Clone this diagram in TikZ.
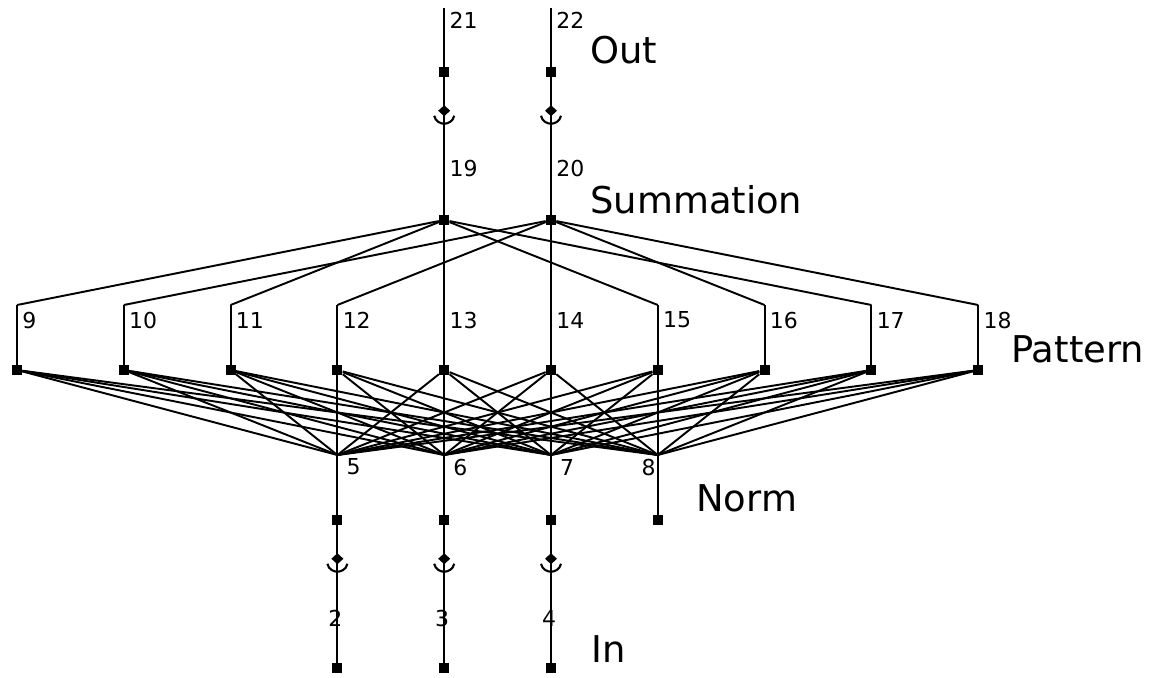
\documentclass[tikz,border=0pt]{standalone}
\usepackage{fontspec}
\setmainfont{DejaVu Sans}
\tikzset{
  unit/.style={rectangle, fill=black, inner sep=0pt, minimum size=0.2cm},
  stem/.style={line width=1.2pt},
  link/.style={line width=1.1pt},
  num/.style={font=\fontsize{12.5}{12.5}\selectfont, inner sep=0pt, anchor=west},
  layer/.style={font=\fontsize{21}{21}\selectfont, inner sep=0pt, anchor=base west},
  barb/.pic={
    \fill (0,-5.5) -- (6,0) -- (0,5.5) -- (-6,0) -- cycle;
    \draw[line width=1.2pt] (-10,5) .. controls (-9,11) and (-3,13) .. (0,13)
      .. controls (3,13) and (9,11) .. (10,5);
  }
}
\begin{document}
\begin{tikzpicture}[x=0.02cm, y=-0.02cm]
    \useasboundingbox (0,0) rectangle (1170,677);
    % input units
    \foreach \i in {2,3,4} {
        \pgfmathsetmacro{\xx}{17+106.8*(\i+1)}
        \node[unit] (u\i) at (\xx,668) {};
        \coordinate (t\i) at (\xx,603);
        \node[num, anchor=center] (n\i) at (\xx-2,618) {\i};
    }
    % norm units
    \foreach \i in {5,6,7,8} {
        \pgfmathsetmacro{\xx}{17+106.8*(\i-2)}
        \node[unit] (u\i) at (\xx,520) {};
        \coordinate (t\i) at (\xx,455);
        \draw[stem] (u\i) -- (t\i);
    }
    \foreach \i in {5,6,7}
        \node[num] (n\i) at ([xshift=5]t\i |- 0,467) {\i};
    \node[num, anchor=east] (n8) at ([xshift=-1]t8 |- 0,467) {8};
    % pattern units
    \foreach \i in {9,...,18} {
        \pgfmathsetmacro{\xx}{17+106.8*(\i-9)}
        \node[unit] (u\i) at (\xx,370) {};
        \coordinate (t\i) at (\xx,305);
        \draw[stem] (u\i) -- (t\i);
        \node[num] (n\i) at (\xx+5,320) {\i};
    }
    % summation units
    \foreach \i in {19,20} {
        \pgfmathsetmacro{\xx}{17+106.8*(\i-15)}
        \node[unit] (u\i) at (\xx,220) {};
        \coordinate (t\i) at (\xx,155);
        \draw[stem] (u\i) -- (t\i);
        \node[num] (n\i) at (\xx+5,168) {\i};
    }
    % output units
    \foreach \i in {21,22} {
        \pgfmathsetmacro{\xx}{17+106.8*(\i-17)}
        \node[unit] (u\i) at (\xx,72) {};
        \coordinate (t\i) at (\xx,8);
        \draw[stem] (u\i) -- (t\i);
        \node[num] (n\i) at (\xx+5,20) {\i};
    }
    \foreach \i in {2,3,4}
        \draw[stem] (u\i) -- (t\i);

    % links
    \foreach \a/\b in {2/5,3/6,4/7,19/21,20/22}
        \draw[stem] (t\a) -- pic[pos=0.57]{barb} (u\b);
    \foreach \a in {5,...,8}
        \foreach \b in {9,...,18}
            \draw[link] (t\a) -- (u\b);
    \foreach \a/\b in {9/19,10/20,11/19,12/20,13/19,14/20,15/19,16/20,17/19,18/20}
        \draw[link] (t\a) -- (u\b);

    % layer names
    \node[layer] (out) at (590,63) {Out};
    \node[layer] (sum) at (590,213) {Summation};
    \node[layer] (pat) at (1011,362) {Pattern};
    \node[layer] (nrm) at (696,511) {Norm};
    \node[layer] (inp) at (591,662) {In};
\end{tikzpicture}
\end{document}
